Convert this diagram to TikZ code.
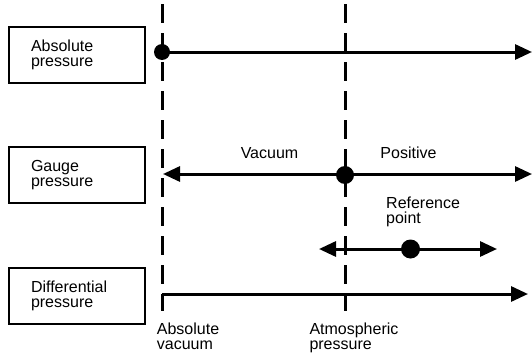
\documentclass[tikz,border=0pt]{standalone}
\usepackage{fontspec}
\setmainfont{Liberation Sans}
\usetikzlibrary{arrows.meta}

\begin{document}
\begin{tikzpicture}[x=1pt,y=-1pt,
  font=\fontsize{16}{15}\selectfont,
  typebox/.style={draw, line width=2pt, minimum width=136pt, minimum height=56pt,
    text width=92pt, inner xsep=22pt, inner ysep=0pt, align=left},
  guide/.style={line width=3pt, dash pattern=on 19pt off 10pt},
  scaleline/.style={line width=3pt, -{Triangle[length=17pt,width=15pt]}},
  bothline/.style={line width=3pt, {Triangle[length=17pt,width=15pt]}-{Triangle[length=17pt,width=15pt]}},
  bullet/.style={circle, fill, inner sep=0pt, minimum size=#1},
  note/.style={anchor=north west, align=left, inner sep=0pt}]
  \useasboundingbox (0,0) rectangle (532,356);

  \node[typebox] (absbox) at (77,55) {Absolute\\pressure};
  \node[typebox] (gaugebox) at (77,175) {Gauge\\pressure};
  \node[typebox] (diffbox) at (77,296) {Differential\\pressure};

  \coordinate (vactop) at (162,4);
  \coordinate (vacbot) at (162,311);
  \coordinate (atmtop) at (345,4);
  \coordinate (atmbot) at (345,311);
  \draw[guide] (vactop) -- (vacbot);
  \draw[guide] (atmtop) -- (atmbot);

  \node[bullet=16pt] (absdot) at (162,52) {};
  \coordinate (absend) at (532,52);
  \draw[scaleline] (absdot.center) -- (absend);

  \coordinate (gaugeleft) at (163,174);
  \coordinate (gaugeright) at (532,174);
  \draw[bothline] (gaugeleft) -- (gaugeright);
  \node[bullet=18pt] (atmdot) at (345,175) {};
  \node[anchor=base] (vaclabel) at (269.5,158) {Vacuum};
  \node[anchor=base] (poslabel) at (408.5,158) {Positive};

  \coordinate (refleft) at (319,249);
  \coordinate (refright) at (497,249);
  \draw[bothline] (refleft) -- (refright);
  \node[bullet=19pt] (refdot) at (410.5,249) {};
  \node[note] (reflabel) at (386,196.3) {Reference\\point};

  \coordinate (diffstart) at (162,294);
  \coordinate (diffend) at (528,294);
  \draw[scaleline] (diffstart) -- (diffend);

  \node[note] (vacnote) at (156.7,322.3) {Absolute\\vacuum};
  \node[note] (atmnote) at (309.3,322.3) {Atmospheric\\pressure};
\end{tikzpicture}
\end{document}
